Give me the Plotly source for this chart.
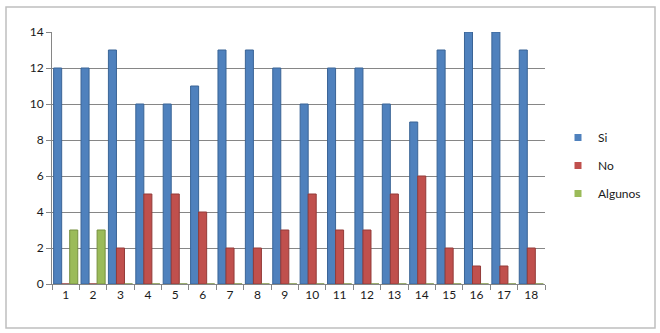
import plotly.graph_objects as go

categories = [str(i) for i in range(1, 19)]
si = [12, 12, 13, 10, 10, 11, 13, 13, 12, 10, 12, 12, 10, 9, 13, 14, 14, 13]
no = [0, 0, 2, 5, 5, 4, 2, 2, 3, 5, 3, 3, 5, 6, 2, 1, 1, 2]
algunos = [3, 3, 0, 0, 0, 0, 0, 0, 0, 0, 0, 0, 0, 0, 0, 0, 0, 0]
y_ticks = [0, 2, 4, 6, 8, 10, 12, 14]
series_names = ["Si", "No", "Algunos"]
colors = ["#4F81BD", "#C0504D", "#9BBB59"]
edges = ["#3A6496", "#933B39", "#76903F"]

fig = go.Figure()
for name, vals, c, e in zip(series_names, [si, no, algunos], colors, edges):
    fig.add_trace(go.Bar(name=name, x=categories, y=vals, showlegend=False,
                         marker=dict(color=c, line=dict(color=e, width=1))))
for name, c in zip(series_names, colors):
    fig.add_trace(go.Scatter(name=name, x=[None], y=[None], mode="markers",
                             legendgroup=name,
                             marker=dict(symbol="square", size=7, color=c)))

L, R, T, B = 52, 115, 32, 49
W, H = 660, 333
pw = W - L - R
ph = H - T - B

fig.update_layout(
    width=W, height=H,
    margin=dict(l=L, r=R, t=T, b=B, autoexpand=False),
    paper_bgcolor="white", plot_bgcolor="white",
    barmode="group", bargap=0.12, bargroupgap=0.0,
    font=dict(family="Lato, Open Sans, sans-serif", size=12, color="#1a1a1a"),
    showlegend=True,
    legend=dict(x=(558 - L) / pw, y=(284 - 123) / ph, xanchor="left", yanchor="top",
                font=dict(size=12), tracegroupgap=9, itemwidth=30,
                bgcolor="rgba(0,0,0,0)"),
    xaxis=dict(type="category", showgrid=False, showline=True, linecolor="#868686",
               ticks="outside", tickcolor="#868686", ticklen=5, tickson="boundaries",
               tickfont=dict(size=12)),
    yaxis=dict(range=[0, 14], tickvals=y_ticks, showgrid=True, gridcolor="#868686",
               gridwidth=1, showline=True, linecolor="#868686", ticks="outside",
               tickcolor="#868686", ticklen=5, zeroline=False, tickfont=dict(size=12)),
)

fig.add_shape(type="rect", xref="paper", yref="paper",
              x0=(6 - L) / pw, x1=(655 - L) / pw,
              y0=(284 - 328) / ph, y1=(284 - 7) / ph,
              line=dict(color="#BFBFBF", width=1.5), fillcolor="rgba(0,0,0,0)", layer="below")

fig.write_html("out.html")
